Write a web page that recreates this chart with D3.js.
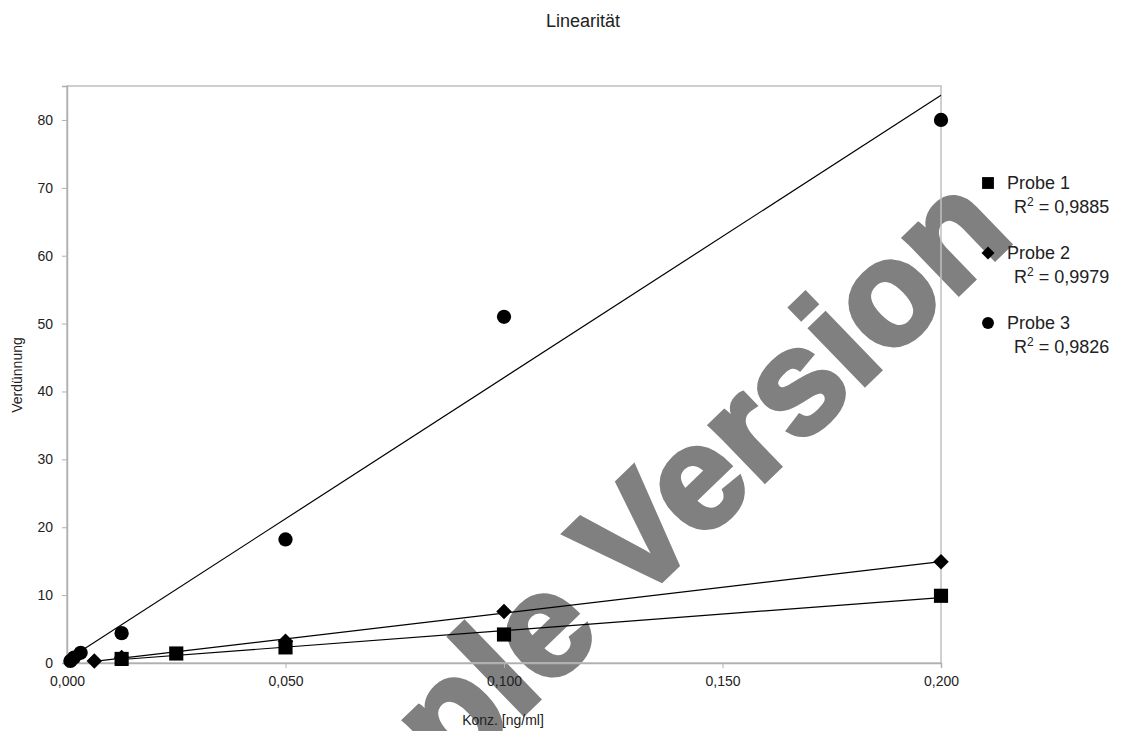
<!DOCTYPE html>
<html>
<head>
<meta charset="utf-8">
<script src="https://cdn.jsdelivr.net/npm/d3@7"></script>
<style>
  body { margin: 0; background: #fff; }
  svg { display: block; font-family: "Liberation Sans", Arial, sans-serif; }
</style>
</head>
<body>
<svg id="chart" width="1147" height="731"></svg>
<script>
// data
var probe1X = [0.0125, 0.025, 0.05, 0.1, 0.2];
var probe1Y = [0.6, 1.4, 2.3, 4.2, 9.9];
var probe2X = [0.00625, 0.0125, 0.05, 0.1, 0.2];
var probe2Y = [0.3, 0.8, 3.2, 7.6, 14.9];
var probe3X = [0.00078, 0.0016, 0.003125, 0.0125, 0.05, 0.1, 0.2];
var probe3Y = [0.3, 0.8, 1.5, 4.4, 18.2, 51, 80];
var seriesNames = ['Probe 1', 'Probe 2', 'Probe 3'];
var rSquared = ['0,9885', '0,9979', '0,9826'];
var xTicks = [0, 0.05, 0.1, 0.15, 0.2];
var yTicks = [0, 10, 20, 30, 40, 50, 60, 70, 80];

var svg = d3.select('#chart');
var margin = {left: 67, top: 86, right: 941, bottom: 663};

var x = d3.scaleLinear().domain([0, 0.2]).range([margin.left, margin.right]);
var y = d3.scaleLinear().domain([0, 85]).range([margin.bottom, margin.top]);

// watermark
svg.append('text')
    .attr('transform', 'translate(1016,238) rotate(-44)')
    .attr('text-anchor', 'end')
    .style('font-size', '147px')
    .style('font-weight', 'bold')
    .style('fill', '#808080')
    .style('stroke', '#808080').style('stroke-width', 5)
    .text('Sample Version');

// frame
svg.append('rect')
    .attr('x', margin.left).attr('y', margin.top)
    .attr('width', margin.right - margin.left)
    .attr('height', margin.bottom - margin.top)
    .style('fill', 'none').style('stroke', '#c0c0c0').style('stroke-width', 1.5);

var fmt = function (d) { return d3.format('.3f')(d).replace('.', ','); };

var xAxis = svg.append('g')
    .attr('transform', 'translate(0,' + margin.bottom + ')')
    .call(d3.axisBottom(x).tickValues(xTicks).tickFormat(fmt).tickSize(5).tickPadding(8));
var yAxis = svg.append('g')
    .attr('transform', 'translate(' + margin.left + ',0)')
    .call(d3.axisLeft(y).tickValues(yTicks).tickSize(5).tickPadding(9));
[xAxis, yAxis].forEach(function (a) {
    a.select('.domain').style('stroke', '#b0b0b0').style('stroke-width', 1.5);
    a.selectAll('.tick line').style('stroke', '#b0b0b0');
    a.selectAll('text').style('font-size', '14px').style('fill', '#222')
        .style('font-family', '"Liberation Sans", Arial, sans-serif');
});

svg.append('text').attr('x', 583).attr('y', 27).attr('text-anchor', 'middle')
    .style('font-size', '18px').style('fill', '#222').text('Linearität');
svg.append('text').attr('x', 503).attr('y', 725).attr('text-anchor', 'middle')
    .style('font-size', '14px').style('fill', '#222').text('Konz. [ng/ml]');
svg.append('text').attr('transform', 'translate(22,375) rotate(-90)').attr('text-anchor', 'middle')
    .style('font-size', '14px').style('fill', '#222').text('Verdünnung');

var series = [
    {xs: probe1X, ys: probe1Y, shape: d3.symbolSquare, size: 200, rot: 0},
    {xs: probe2X, ys: probe2Y, shape: d3.symbolSquare, size: 120, rot: 45},
    {xs: probe3X, ys: probe3Y, shape: d3.symbolCircle, size: 160, rot: 0}
];

// linear trend lines (least squares over each series' x range)
series.forEach(function (s, k) {
    var mx = d3.mean(s.xs), my = d3.mean(s.ys);
    var sxy = d3.sum(s.xs, function (v, i) { return (v - mx) * (s.ys[i] - my); });
    var sxx = d3.sum(s.xs, function (v) { return (v - mx) * (v - mx); });
    var b = sxy / sxx, a = my - b * mx;
    var ext = d3.extent(s.xs);
    if (k === 2) ext[0] = 0;
    svg.append('path')
        .datum(ext)
        .attr('d', d3.line().x(function (d) { return x(d); }).y(function (d) { return y(a + b * d); }))
        .style('stroke', '#000').style('stroke-width', 1.2).style('fill', 'none');
});

series.forEach(function (s) {
    svg.append('g').selectAll('path').data(s.xs).enter().append('path')
        .attr('transform', function (d, i) {
            return 'translate(' + x(d) + ',' + y(s.ys[i]) + ') rotate(' + s.rot + ')';
        })
        .attr('d', d3.symbol().type(s.shape).size(s.size))
        .style('fill', '#000');
});

// legend
var legend = svg.append('g');
series.forEach(function (s, i) {
    var ly = 183 + i * 70;
    legend.append('path')
        .attr('transform', 'translate(988,' + ly + ') rotate(' + s.rot + ')')
        .attr('d', d3.symbol().type(s.shape).size(s.size * 0.7))
        .style('fill', '#000');
    legend.append('text').attr('x', 1007).attr('y', ly + 6)
        .style('font-size', '18px').style('fill', '#222').text(seriesNames[i]);
    var r = legend.append('text').attr('x', 1014).attr('y', ly + 30)
        .style('font-size', '18px').style('fill', '#222');
    r.append('tspan').text('R');
    r.append('tspan').attr('dy', -7).style('font-size', '12px').text('2');
    r.append('tspan').attr('dy', 7).text(' = ' + rSquared[i]);
});
</script>
</body>
</html>
